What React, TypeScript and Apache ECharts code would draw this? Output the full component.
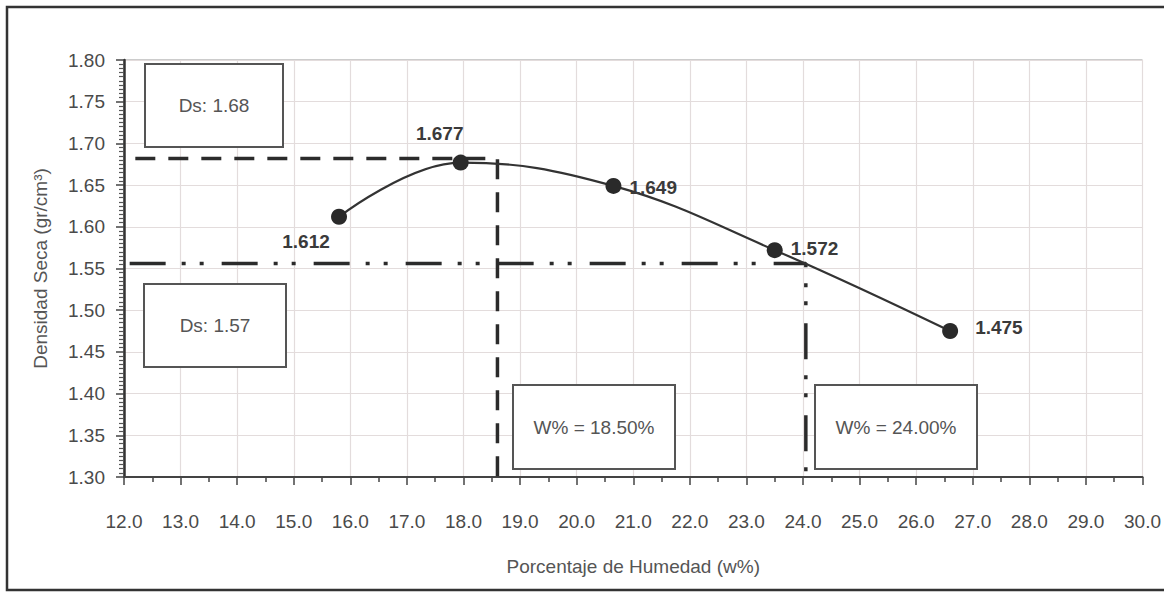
import React, { useEffect, useRef } from "react";
import * as echarts from "echarts";

// Data
const humidity = [15.8, 17.95, 20.65, 23.5, 26.6];
const density = [1.612, 1.677, 1.649, 1.572, 1.475];
const pointLabels = ["1.612", "1.677", "1.649", "1.572", "1.475"];

// Reference (optimum) lines
const maxDensityLine = [[12.2, 1.682], [18.6, 1.682], [18.6, 1.3]];
const secondLine = [[12.1, 1.556], [24.05, 1.556], [24.05, 1.3]];

// Annotation box texts
const boxTexts = ["Ds: 1.68", "Ds: 1.57", "W% = 18.50%", "W% = 24.00%"];

const xMin = 12, xMax = 30, yMin = 1.3, yMax = 1.8;

const FONT = "'Liberation Sans', Arial, sans-serif";

export default function App() {
  const ref = useRef<HTMLDivElement>(null);
  useEffect(() => {
    document.body.style.margin = "0";
    const chart = echarts.init(ref.current!, null, { renderer: "svg" });

    // label offsets relative to marker center
    const labelOffsets = [
      { ox: -33, oy: 25, align: "center" },
      { ox: -21, oy: -29, align: "center" },
      { ox: 16, oy: 2, align: "left" },
      { ox: 16, oy: -2, align: "left" },
      { ox: 25, oy: -4, align: "left" },
    ];

    const curveData = humidity.map((x, i) => ({
      value: [x, density[i]],
      label: {
        show: true,
        formatter: pointLabels[i],
        position: [8 + labelOffsets[i].ox, 8 + labelOffsets[i].oy],
        align: labelOffsets[i].align,
        verticalAlign: "middle",
      },
    }));

    const boxes = [
      { x: 145, y: 64, w: 138, h: 83, t: boxTexts[0] },
      { x: 144, y: 284, w: 142, h: 83, t: boxTexts[1] },
      { x: 513, y: 385, w: 162, h: 84, t: boxTexts[2] },
      { x: 815, y: 385, w: 162, h: 84, t: boxTexts[3] },
    ];

    const graphics: any[] = [
      {
        type: "rect",
        shape: { x: 7, y: 7, width: 1175, height: 583 },
        style: { fill: "none", stroke: "#333", lineWidth: 2.5 },
        silent: true,
        z: 100,
      },
    ];
    boxes.forEach((b) => {
      graphics.push({
        type: "rect",
        shape: { x: b.x, y: b.y, width: b.w, height: b.h },
        style: { fill: "#fff", stroke: "#555", lineWidth: 2 },
        z: 50,
      });
      graphics.push({
        type: "text",
        x: b.x + b.w / 2,
        y: b.y + b.h / 2,
        style: {
          text: b.t,
          fill: "#555",
          font: `19px ${FONT}`,
          textAlign: "center",
          textVerticalAlign: "middle",
        },
        z: 51,
      });
    });

    chart.setOption({
      animation: false,
      backgroundColor: "#fff",
      grid: {
        left: 124,
        right: 20,
        top: 60,
        bottom: 115,
        show: true,
        borderColor: "#999",
        borderWidth: 1,
      },
      xAxis: {
        type: "value",
        min: xMin,
        max: xMax,
        interval: 1,
        name: "Porcentaje de Humedad (w%)",
        nameLocation: "middle",
        nameGap: 80,
        nameTextStyle: { fontFamily: FONT, fontSize: 19, color: "#555" },
        axisLine: { show: true, onZero: false, lineStyle: { color: "#444", width: 2 } },
        axisTick: { show: true, length: 8, lineStyle: { color: "#444", width: 1.5 } },
        minorTick: { show: true, splitNumber: 2, length: 5, lineStyle: { color: "#444", width: 1.5 } },
        axisLabel: {
          fontFamily: FONT,
          fontSize: 19,
          color: "#4a4a4a",
          margin: 35,
          formatter: (v: number) => v.toFixed(1),
        },
        splitLine: { show: true, lineStyle: { color: "#e3dcdc", width: 1.2 } },
      },
      yAxis: {
        type: "value",
        min: yMin,
        max: yMax,
        interval: 0.05,
        name: "Densidad Seca (gr/cm³)",
        nameLocation: "middle",
        nameGap: 74,
        nameTextStyle: { fontFamily: FONT, fontSize: 19, color: "#555" },
        axisLine: { show: true, onZero: false, lineStyle: { color: "#333", width: 2.5 } },
        axisTick: { show: true, length: 8, lineStyle: { color: "#444", width: 1.5 } },
        minorTick: { show: true, splitNumber: 10, length: 5, lineStyle: { color: "#555", width: 1.2 } },
        axisLabel: {
          fontFamily: FONT,
          fontSize: 19,
          color: "#4a4a4a",
          margin: 19,
          formatter: (v: number) => v.toFixed(2),
        },
        splitLine: { show: true, lineStyle: { color: "#e3dcdc", width: 1.2 } },
      },
      graphic: graphics,
      series: [
        {
          type: "line",
          data: maxDensityLine,
          symbol: "none",
          silent: true,
          lineStyle: { color: "#2b2b2b", width: 3.5, type: [20, 13] },
          z: 3,
        },
        {
          type: "line",
          data: secondLine,
          symbol: "none",
          silent: true,
          lineStyle: { color: "#2b2b2b", width: 3.5, type: [36, 16, 4, 14, 4, 18] },
          z: 3,
        },
        {
          type: "line",
          data: curveData,
          smooth: 0.4,
          symbol: "circle",
          symbolSize: 16,
          itemStyle: { color: "#2a2a2a" },
          lineStyle: { color: "#333", width: 2.2 },
          label: {
            fontFamily: FONT,
            fontSize: 19,
            fontWeight: "bold",
            color: "#3a3a3a",
          },
          z: 5,
        },
      ],
    });
    return () => chart.dispose();
  }, []);
  return <div ref={ref} style={{ width: 1164, height: 592 }} />;
}
